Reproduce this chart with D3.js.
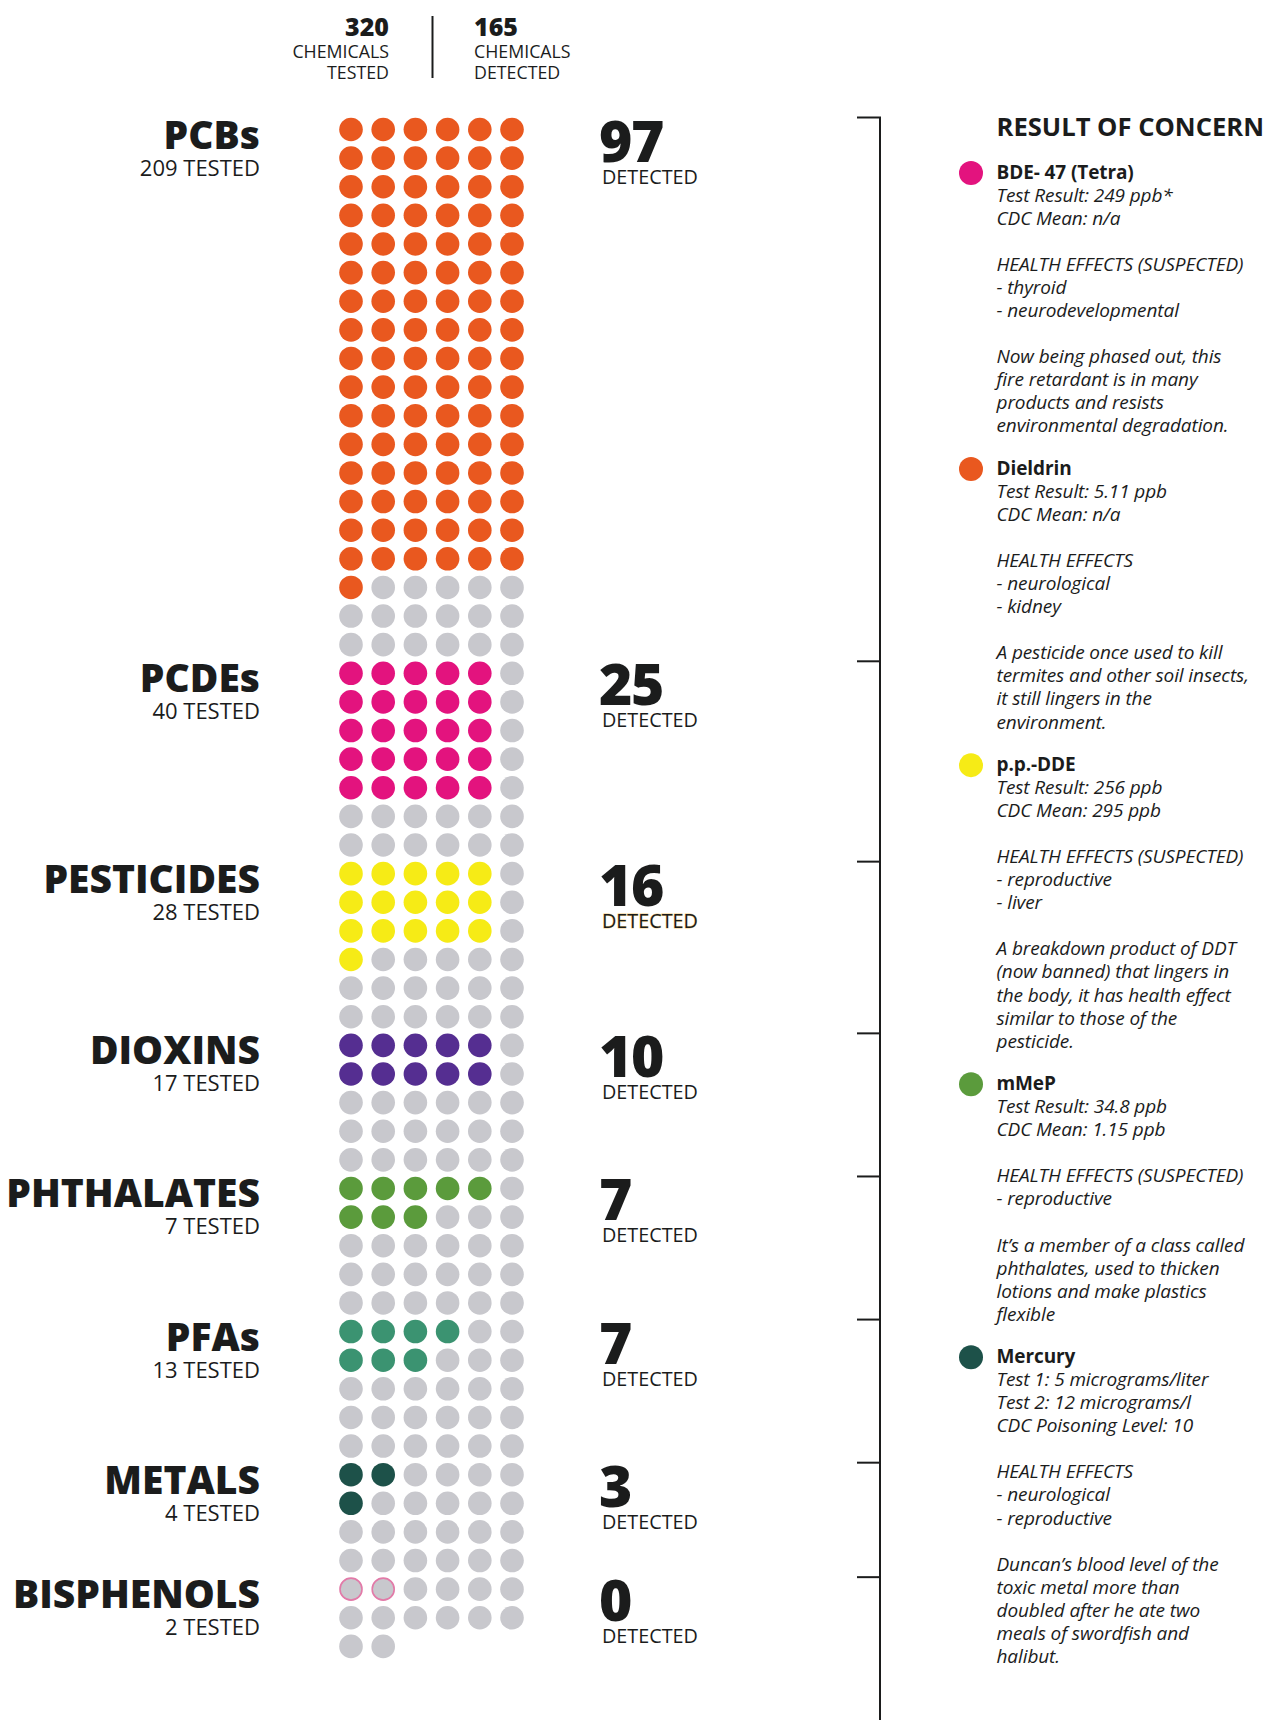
<!DOCTYPE html>
<html>
<head>
<meta charset="utf-8">
<script src="https://cdn.jsdelivr.net/npm/d3@7"></script>
<style>
  html, body { margin: 0; padding: 0; background: #ffffff; }
  svg { display: block; }
</style>
</head>
<body>
<div id="chart"></div>
<script>
// ---------------- DATA ----------------
const groups   = ["PCBs", "PCDEs", "PESTICIDES", "DIOXINS", "PHTHALATES", "PFAs", "METALS", "BISPHENOLS"];
const tested   = [209, 40, 28, 17, 7, 13, 4, 2];
const detected = [97, 25, 16, 10, 7, 7, 3, 0];
// rows of the 6-wide dot grid given to each class
const rowsPerGroup = [19, 7, 6, 5, 5, 5, 4, 3];
// coloured dots drawn in each row of a class block (as shown in the picture)
const coloredPerRow = [
  [6, 6, 6, 6, 6, 6, 6, 6, 6, 6, 6, 6, 6, 6, 6, 6, 1],
  [5, 5, 5, 5, 5],
  [5, 5, 5, 1],
  [5, 5],
  [5, 3],
  [4, 3],
  [2, 1],
  [2]
];
const groupColors = ["#e9581f", "#e3137e", "#f6eb16", "#552e91", "#5b9b3c", "#3b9371", "#1d5149", "#c8c8cd"];

const concernNames   = ["BDE- 47 (Tetra)", "Dieldrin", "p.p.-DDE", "mMeP", "Mercury"];
const concernColors  = ["#e3137e", "#e9581f", "#f6eb16", "#5b9b3c", "#1d5149"];
const concernResults = [
  ["Test Result: 249 ppb*", "CDC Mean: n/a"],
  ["Test Result: 5.11 ppb", "CDC Mean: n/a"],
  ["Test Result: 256 ppb", "CDC Mean: 295 ppb"],
  ["Test Result: 34.8 ppb", "CDC Mean: 1.15 ppb"],
  ["Test 1: 5 micrograms/liter", "Test 2: 12 micrograms/l", "CDC Poisoning Level: 10"]
];
const concernEffectHeads = [
  "HEALTH EFFECTS (SUSPECTED)", "HEALTH EFFECTS", "HEALTH EFFECTS (SUSPECTED)",
  "HEALTH EFFECTS (SUSPECTED)", "HEALTH EFFECTS"
];
const concernEffects = [
  ["thyroid", "neurodevelopmental"],
  ["neurological", "kidney"],
  ["reproductive", "liver"],
  ["reproductive"],
  ["neurological", "reproductive"]
];
const concernNotes = [
  ["Now being phased out, this", "fire retardant is in many", "products and resists", "environmental degradation."],
  ["A pesticide once used to kill", "termites and other soil insects,", "it still lingers in the", "environment."],
  ["A breakdown product of DDT", "(now banned) that lingers in", "the body, it has health effect", "similar to those of the", "pesticide."],
  ["It\u2019s a member of a class called", "phthalates, used to thicken", "lotions and make plastics", "flexible"],
  ["Duncan\u2019s blood level of the", "toxic metal more than", "doubled after he ate two", "meals of swordfish and", "halibut."]
];
const headerLabels = ["CHEMICALS", "TESTED", "DETECTED"];
const concernTitle = "RESULT OF CONCERN";

// ---------------- LAYOUT ----------------
const W = 1263, H = 1720;
const FONT = "'Open Sans', 'Noto Sans', sans-serif";
const INK = "#1b1c1c";
const GREY = "#c8c8cd";
const COLS = 6;

const totalTested = d3.sum(tested);
const totalDetected = d3.sum(detected);
const nRows = Math.ceil(totalTested / COLS);

const x = d3.scaleLinear().domain([0, COLS - 1]).range([351, 512]);
const y = d3.scaleLinear().domain([0, nRows - 1]).range([129.5, 1646.4]);
const R = 11.8;

const startRow = d3.cumsum([0].concat(rowsPerGroup)).slice(0, groups.length);
const groupOfRow = [];
rowsPerGroup.forEach((n, g) => { for (let i = 0; i < n; i++) groupOfRow.push(g); });

const dots = d3.range(totalTested).map(i => {
  const row = Math.floor(i / COLS), col = i % COLS;
  const g = groupOfRow[row];
  const rr = row - startRow[g];
  const rowCounts = coloredPerRow[g];
  const colored = rr < rowCounts.length && col < rowCounts[rr];
  return { row, col, g, colored };
});

const svg = d3.select("#chart").append("svg")
  .attr("width", W).attr("height", H)
  .attr("viewBox", `0 0 ${W} ${H}`);

// ---------------- HEADER ----------------
const hdr = svg.append("g").attr("font-family", FONT).attr("fill", INK);
function headerBlock(xPos, anchor, num, l1, l2) {
  const t = hdr.append("text").attr("text-anchor", anchor);
  t.append("tspan").attr("x", xPos).attr("y", 36)
    .attr("font-size", 25).attr("font-weight", 800).text(num);
  t.append("tspan").attr("x", xPos).attr("y", 57.5)
    .attr("font-size", 17.8).text(l1);
  t.append("tspan").attr("x", xPos).attr("y", 79)
    .attr("font-size", 17.8).text(l2);
}
headerBlock(389, "end", totalTested, headerLabels[0], headerLabels[1]);
headerBlock(474, "start", totalDetected, headerLabels[0], headerLabels[2]);
hdr.append("line").attr("x1", 432.5).attr("x2", 432.5).attr("y1", 16).attr("y2", 78)
  .attr("stroke", INK).attr("stroke-width", 2);

// ---------------- DOTS ----------------
svg.append("g").selectAll("circle").data(dots).join("circle")
  .attr("cx", d => x(d.col))
  .attr("cy", d => y(d.row))
  .attr("r", d => (d.colored && d.g === groups.length - 1) ? R - 0.8 : R)
  .attr("fill", d => d.colored ? groupColors[d.g] : GREY)
  .attr("stroke", d => (d.colored && d.g === groups.length - 1) ? "#e27aa8" : "none")
  .attr("stroke-width", 1.6);

// ---------------- LEFT LABELS ----------------
const left = svg.append("g").attr("font-family", FONT).attr("fill", INK);
groups.forEach((name, g) => {
  const y0 = y(startRow[g]);
  const t = left.append("text").attr("text-anchor", "end");
  t.append("tspan").attr("x", 260).attr("y", y0 + 19)
    .attr("font-size", 39).attr("font-weight", 800).text(name);
  t.append("tspan").attr("x", 260).attr("y", y0 + 46)
    .attr("font-size", 22).attr("font-weight", 400).text(`${tested[g]} TESTED`);
});

// ---------------- DETECTED COUNTS ----------------
const right = svg.append("g").attr("font-family", FONT).attr("fill", INK);
groups.forEach((name, g) => {
  const y0 = y(startRow[g]);
  const t = right.append("text");
  t.append("tspan").attr("x", 599).attr("y", y0 + 32)
    .attr("font-size", 57).attr("font-weight", 800).attr("letter-spacing", -1.5).text(detected[g]);
  t.append("tspan").attr("x", 602).attr("y", y0 + 54)
    .attr("font-size", 19.8).attr("font-weight", 400).attr("letter-spacing", 0)
    .attr("stroke", name === "PESTICIDES" ? "#f3cf86" : "none")
    .attr("stroke-width", 0.8).attr("paint-order", "stroke")
    .text(headerLabels[2]);
});

// ---------------- BRACKET ----------------
const br = svg.append("g").attr("stroke", INK).attr("stroke-width", 2).attr("fill", "none");
const bx = 880;
br.append("line").attr("x1", bx).attr("x2", bx).attr("y1", y(0) - 12).attr("y2", H);
groups.forEach((name, g) => {
  const ty = y(startRow[g]) - 12;
  br.append("line").attr("x1", 857).attr("x2", bx + 1).attr("y1", ty).attr("y2", ty);
});

// ---------------- RESULT OF CONCERN ----------------
const tx = 996.5, LH = 23.04;
const panel = svg.append("g").attr("font-family", FONT).attr("fill", INK);
panel.append("text").attr("x", tx).attr("y", 136)
  .attr("font-size", 25.6).attr("font-weight", 700).text(concernTitle);

let cy = 179;
concernNames.forEach((nm, k) => {
  const lines = [];
  lines.push({ t: nm, bold: true });
  concernResults[k].forEach(t => lines.push({ t }));
  lines.push(null);
  lines.push({ t: concernEffectHeads[k] });
  concernEffects[k].forEach(t => lines.push({ t: "- " + t }));
  lines.push(null);
  concernNotes[k].forEach(t => lines.push({ t }));

  panel.append("circle").attr("cx", 971).attr("cy", cy - 6).attr("r", 12)
    .attr("fill", concernColors[k]);
  const block = panel.append("text").attr("font-size", 19).attr("letter-spacing", -0.1);
  lines.forEach((ln, i) => {
    if (!ln) return;
    block.append("tspan").attr("x", tx).attr("y", cy + i * LH)
      .attr("font-weight", ln.bold ? 700 : 400)
      .attr("font-style", ln.bold ? "normal" : "italic")
      .text(ln.t);
  });
  cy += (lines.length + 0.85) * LH;
});
</script>
</body>
</html>
